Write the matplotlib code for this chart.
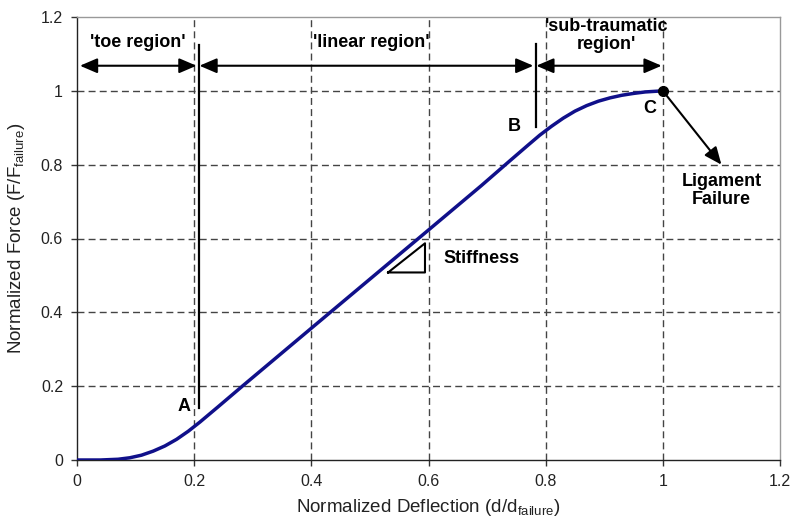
import matplotlib
matplotlib.use("Agg")
import matplotlib.pyplot as plt

plt.rcParams['font.family'] = ['Liberation Sans', 'DejaVu Sans']

# Data
deflection = [0, 0.04, 0.07, 0.09, 0.11, 0.13, 0.15, 0.17, 0.19, 0.21, 0.24, 0.28,
              0.4, 0.5, 0.6, 0.69, 0.74, 0.77, 0.79, 0.81, 0.83, 0.85, 0.87, 0.89,
              0.91, 0.93, 0.95, 0.97, 1.0]
force = [0, 0, 0.002, 0.006, 0.013, 0.024, 0.038, 0.056, 0.078, 0.103, 0.143, 0.197,
         0.357, 0.49, 0.623, 0.743, 0.812, 0.853, 0.88, 0.904, 0.926, 0.945, 0.96, 0.972,
         0.981, 0.988, 0.993, 0.997, 1.0]
ticks = [0, 0.2, 0.4, 0.6, 0.8, 1.0, 1.2]
tick_labels = ['0', '0.2', '0.4', '0.6', '0.8', '1', '1.2']
region_labels = ["'toe region'", "'linear region'", "'sub-traumatic\nregion'"]
region_bounds = [(0.005, 0.204), (0.209, 0.779), (0.784, 0.998)]
point_labels = ['A', 'B', 'C']

fig = plt.figure(figsize=(7.94, 5.25), dpi=100)
ax = fig.add_axes([77/794, 1 - 460/525, (780 - 77)/794, (460 - 17)/525])
ax.set_xlim(0, 1.2)
ax.set_ylim(0, 1.2)
ax.set_xticks(ticks)
ax.set_xticklabels(tick_labels, fontsize=11.5)
ax.set_yticks(ticks)
ax.set_yticklabels(tick_labels, fontsize=11.5)
ax.tick_params(direction='out', length=4, width=1, color='#333333', labelcolor='#222222', pad=6)

for t in ticks[1:-1]:
    ax.axvline(t, color='#444444', lw=1, ls=(0, (5, 3)), zorder=1)
    ax.axhline(t, color='#444444', lw=1, ls=(0, (5, 3)), zorder=1)

for s in ['left', 'bottom']:
    ax.spines[s].set_color('#222222')
    ax.spines[s].set_linewidth(1)
for s in ['top', 'right']:
    ax.spines[s].set_color('#999999')
    ax.spines[s].set_linewidth(1)

ax.plot(deflection, force, color='#10108a', lw=2.5, zorder=3, solid_capstyle='round',
        solid_joinstyle='round')

# Region boundary lines
ax.plot([0.208, 0.208], [0.14, 1.125], color='black', lw=1.6, zorder=4)
ax.plot([0.783, 0.783], [0.903, 1.127], color='black', lw=1.6, zorder=4)

# Region arrows
for (x0, x1) in region_bounds:
    ax.annotate('', xy=(x1, 1.068), xytext=(x0, 1.068),
                arrowprops=dict(arrowstyle='<|-|>,head_length=0.7,head_width=0.3',
                                color='black', lw=1.5, shrinkA=0, shrinkB=0,
                                mutation_scale=15), zorder=5)

ax.text(0.104, 1.13, region_labels[0], ha='center', va='center', fontsize=13, fontweight='bold')
ax.text(0.502, 1.13, region_labels[1], ha='center', va='center', fontsize=13, fontweight='bold')
ax.text(0.904, 1.15, region_labels[2], ha='center', va='center', fontsize=13,
        fontweight='bold', linespacing=1.1)

ax.text(0.182, 0.144, point_labels[0], ha='center', va='center', fontsize=13, fontweight='bold')
ax.text(0.747, 0.903, point_labels[1], ha='center', va='center', fontsize=13, fontweight='bold')
ax.text(0.978, 0.951, point_labels[2], ha='center', va='center', fontsize=13, fontweight='bold')

# Failure point and arrow
ax.plot([1.0], [1.0], 'o', color='black', ms=7, zorder=6, clip_on=False)
ax.annotate('', xy=(1.1, 0.8), xytext=(1.0, 1.0),
            arrowprops=dict(arrowstyle='-|>,head_length=0.7,head_width=0.3',
                            color='black', lw=1.5, shrinkA=0, shrinkB=0,
                            mutation_scale=15), zorder=5)
ax.text(1.1, 0.73, 'Ligament\nFailure', ha='center', va='center', fontsize=13,
        fontweight='bold', linespacing=1.15)

# Stiffness triangle
ax.plot([0.531, 0.594, 0.594, 0.531], [0.508, 0.587, 0.508, 0.508], color='black', lw=1.5, zorder=4)
ax.text(0.625, 0.545, 'Stiffness', ha='left', va='center', fontsize=13, fontweight='bold')

ax.set_xlabel('Normalized Deflection (d/d$_{\\mathregular{failure}}$)', fontsize=13.5,
              color='#222222', labelpad=6)
ax.set_ylabel('Normalized Force (F/F$_{\\mathregular{failure}}$)', fontsize=13.5,
              color='#222222', labelpad=10)

fig.savefig('out.png', dpi=100)
